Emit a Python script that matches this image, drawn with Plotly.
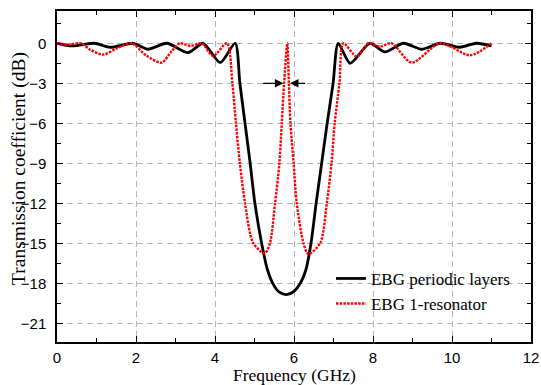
import plotly.graph_objects as go

# ---- data ----
freq_periodic = [0.0, 0.15, 0.35, 0.65, 0.95, 1.35, 1.93, 2.3, 2.78, 3.32, 3.7, 4.13, 4.51,
                 4.63, 4.76, 4.89, 5.01, 5.18, 5.33, 5.48, 5.62, 5.81, 6.0, 6.16, 6.3, 6.43, 6.56,
                 6.7, 6.84, 6.99, 7.12, 7.42, 7.92, 8.3, 8.77, 9.23, 9.7, 10.2, 10.62, 11.0]
db_periodic = [0.0, -0.1, -0.2, -0.1, 0.0, -0.3, 0.0, -0.45, 0.0, -0.7, 0.0, -1.45, 0.0,
               -3.0, -6.0, -9.0, -12.0, -15.0, -17.0, -18.1, -18.65, -18.85, -18.6, -18.0, -17.0, -15.0, -12.0,
               -9.0, -6.0, -3.0, 0.0, -1.5, 0.0, -0.65, 0.0, -0.45, 0.0, -0.3, 0.0, -0.2]

freq_resonator = [0.0, 0.3, 0.6, 0.85, 1.17, 1.5, 1.89, 2.25, 2.65, 2.9, 3.11, 3.38, 3.66,
                  3.95, 4.3, 4.44, 4.53, 4.63, 4.76, 4.97, 5.26, 5.39, 5.52, 5.63, 5.69,
                  5.75, 5.83, 5.87, 5.91, 5.99, 6.07, 6.24, 6.36, 6.66, 6.83, 6.95, 7.03,
                  7.15, 7.25, 7.59, 7.88, 8.18, 8.47, 8.98, 9.7, 10.46, 11.0]
db_resonator = [0.0, -0.1, 0.0, -0.5, -0.85, -0.4, 0.0, -0.9, -1.45, -0.6, 0.0, -0.2, 0.0,
                -0.95, 0.0, -3.0, -6.0, -9.0, -12.0, -15.0, -15.75, -15.0, -12.0, -9.0, -6.0,
                -3.0, 0.0, -3.0, -6.0, -9.0, -12.0, -15.0, -15.8, -15.0, -12.0, -9.0, -6.0,
                -3.0, 0.0, -1.0, 0.0, -0.25, 0.0, -1.45, 0.0, -0.9, 0.0]

series_names = ["EBG periodic layers", "EBG 1-resonator"]
x_title = "Frequency (GHz)"
y_title = "Transmission coefficient (dB)"
x_tick_values = [0, 2, 4, 6, 8, 10, 12]
y_tick_values = [0, -3, -6, -9, -12, -15, -18, -21]

arrow_y = -3
arrow_tails = [5.18, 6.32]
arrow_heads = [5.73, 5.9]

# ---- figure ----
fig = go.Figure()
fig.add_trace(go.Scatter(
    x=freq_periodic, y=db_periodic, mode="lines", name=series_names[0],
    line=dict(color="black", width=2.8, shape="spline", smoothing=0.7)))
fig.add_trace(go.Scatter(
    x=freq_resonator, y=db_resonator, mode="lines", name=series_names[1],
    line=dict(color="#ff0000", width=2.4, dash="2.5px,1.2px", shape="spline", smoothing=0.8)))

for tail, head in zip(arrow_tails, arrow_heads):
    fig.add_annotation(x=head, y=arrow_y, ax=tail, ay=arrow_y, xref="x", yref="y",
                       axref="x", ayref="y", text="", showarrow=True,
                       arrowhead=2, arrowsize=1.3, arrowwidth=1.3, arrowcolor="black")

serif = "Liberation Serif, Times New Roman"
# axis titles (placed as annotations for precise positioning)
fig.add_annotation(text=x_title, xref="paper", yref="paper", x=0.5, y=0,
                   xanchor="center", yanchor="middle", yshift=-33.3, showarrow=False,
                   borderpad=0, font=dict(family=serif, size=17.5, color="black"))
fig.add_annotation(text=y_title, xref="paper", yref="paper", x=0, y=0.5227,
                   xanchor="center", yanchor="middle", xshift=-38, textangle=-90,
                   borderpad=0, showarrow=False, font=dict(family=serif, size=19.5, color="black"))

axis_common = dict(
    showline=True, linecolor="black", linewidth=1.5, mirror="ticks",
    ticks="inside", ticklen=6, tickwidth=1.3, tickcolor="black",
    showgrid=True, gridcolor="#b4b4b4", gridwidth=1, griddash="6px,4px",
    zeroline=False, automargin=False,
    tickfont=dict(family="Liberation Sans, Arial", size=15, color="black"),
)

fig.update_xaxes(
    **axis_common, range=[0, 12], tickvals=x_tick_values, ticklabelstandoff=1,
    minor=dict(ticks="inside", ticklen=4, tickwidth=1.3, tickcolor="black", dtick=1, showgrid=False),
)
fig.update_yaxes(
    **axis_common, range=[-22.4, 2.42], tickvals=y_tick_values, ticklabelstandoff=6,
    minor=dict(ticks="inside", ticklen=4, tickwidth=1.3, tickcolor="black", dtick=1.5, tick0=0, showgrid=False),
)

fig.update_layout(
    width=541, height=385,
    margin=dict(l=57, r=10, t=11, b=43),
    plot_bgcolor="white", paper_bgcolor="white",
    showlegend=True,
    legend=dict(x=0.578, y=0.245, xanchor="left", yanchor="top",
                bgcolor="rgba(0,0,0,0)", borderwidth=0,
                font=dict(family=serif, size=17, color="black"),
                tracegroupgap=0, itemwidth=30),
)

fig.write_html("out.html")
